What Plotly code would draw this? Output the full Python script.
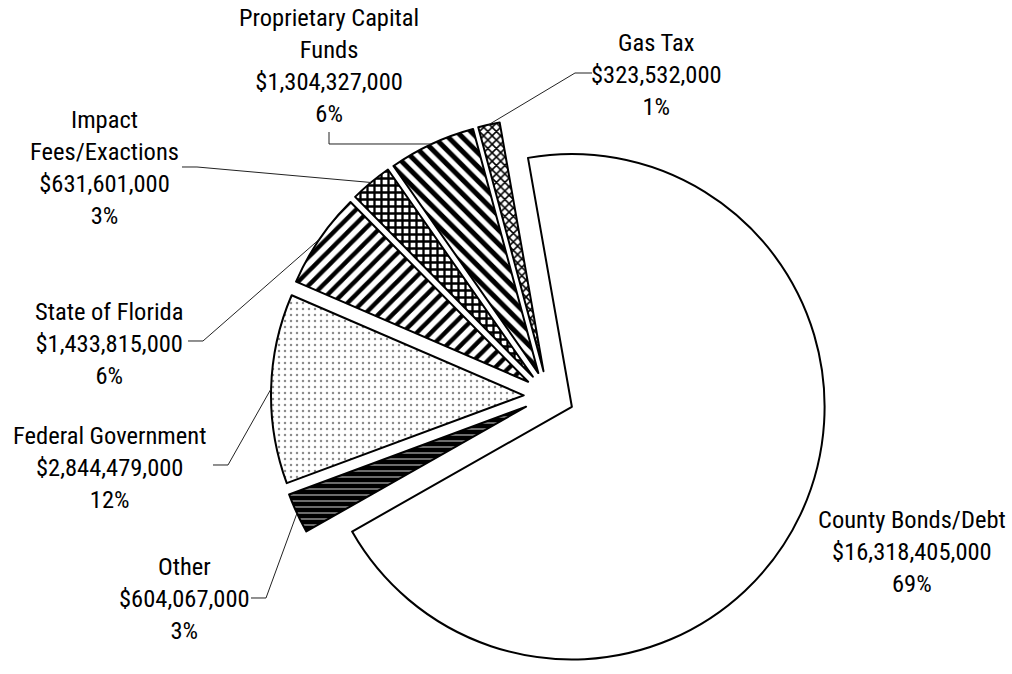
import math
import plotly.graph_objects as go

W, H = 1012, 674

# Capital funding sources (dollars), listed clockwise from the top
sources = ["County Bonds/Debt", "Other", "Federal Government", "State of Florida",
           "Impact Fees/Exactions", "Proprietary Capital Funds", "Gas Tax"]
amounts = [16318405000, 604067000, 2844479000, 1433815000,
           631601000, 1304327000, 323532000]
percent_labels = [69, 3, 12, 6, 3, 6, 1]
label_lines = [["County Bonds/Debt"], ["Other"], ["Federal Government"], ["State of Florida"],
               ["Impact", "Fees/Exactions"], ["Proprietary Capital", "Funds"], ["Gas Tax"]]

# Fill styles per slice
fill_bg = ["white", "black", "white", "white", "white", "white", "white"]
fill_fg = ["black", "#c8c8c8", "#8c8c8c", "black", "black", "black", "black"]
fill_shape = ["", "-", ".", "/", "+", "\\", "x"]
fill_size = [8, 6, 6, 10, 7, 10, 6]
fill_solid = [0.3, 0.18, 0.14, 0.45, 0.55, 0.5, 0.45]

# Label placement (page pixels: centre of each text block)
label_x = [912, 184, 109, 109, 104, 329, 656]
label_y = [551, 598, 467, 343, 168, 66, 74]
# Leader lines: start next to the text, short stub, then run to the slice rim
leader_x0 = [None, 251, 213, 188, 182, 329, 592]
leader_y0 = [None, 598, 465, 341, 167, 132, 73]
leader_kind = [None, "h", "h", "h", "h", "v", "h"]
leader_stub = [0, 15, 15, 15, 15, 0, -17]

PULL = 0.1
ROTATION = -10
dom_x = [(549 - 290) / W, (549 + 290) / W]
dom_y = [0.0, 556 / H]

FONT = dict(family="Roboto Condensed, Liberation Sans Narrow, Arial Narrow, sans-serif",
            size=24.5, color="black")

fig = go.Figure(go.Pie(
    labels=sources,
    values=amounts,
    sort=False,
    direction="clockwise",
    rotation=ROTATION,
    pull=[PULL] * len(amounts),
    textinfo="none",
    hoverinfo="label+value+percent",
    domain=dict(x=dom_x, y=dom_y),
    marker=dict(
        colors=fill_bg,
        line=dict(color="black", width=2),
        pattern=dict(shape=fill_shape, fgcolor=fill_fg, bgcolor=fill_bg,
                     size=fill_size, solidity=fill_solid, fillmode="replace"),
    ),
    showlegend=False,
))

# Pie geometry as Plotly lays it out inside its domain box
box_w = (dom_x[1] - dom_x[0]) * W
box_h = (dom_y[1] - dom_y[0]) * H
R = min(box_w, box_h) / (2 * (1 + PULL))
CX = W * (dom_x[0] + dom_x[1]) / 2
CY = H * (1 - (dom_y[0] + dom_y[1]) / 2)
total = sum(amounts)


def px(x, y):
    return x / W, 1 - y / H


annotations = []
shapes = []
cum = 0.0
for i, v in enumerate(amounts):
    mid = math.radians(ROTATION + 360 * (cum + v / 2) / total)
    cum += v
    rim_x = CX + (1 + PULL) * R * math.sin(mid)
    rim_y = CY - (1 + PULL) * R * math.cos(mid)

    text = "<br>".join(label_lines[i] + [f"${v:,}", f"{percent_labels[i]}%"])
    ax, ay = px(label_x[i], label_y[i])
    annotations.append(dict(x=ax, y=ay, xref="paper", yref="paper", text=text,
                            showarrow=False, xanchor="center", yanchor="middle",
                            align="center", font=FONT))

    if leader_kind[i] is None:
        continue
    x0, y0 = leader_x0[i], leader_y0[i]
    if leader_kind[i] == "h":
        ex, ey = x0 + leader_stub[i], y0
    else:
        ex, ey = x0, rim_y
    pts = [px(x0, y0), px(ex, ey), px(rim_x, rim_y)]
    path = "M {:.5f},{:.5f} L {:.5f},{:.5f} L {:.5f},{:.5f}".format(
        pts[0][0], pts[0][1], pts[1][0], pts[1][1], pts[2][0], pts[2][1])
    shapes.append(dict(type="path", path=path, xref="paper", yref="paper",
                       line=dict(color="#222222", width=1)))

fig.update_layout(
    width=W, height=H,
    margin=dict(l=0, r=0, t=0, b=0),
    paper_bgcolor="white",
    plot_bgcolor="white",
    annotations=annotations,
    shapes=shapes,
)

fig.write_html("out.html")
